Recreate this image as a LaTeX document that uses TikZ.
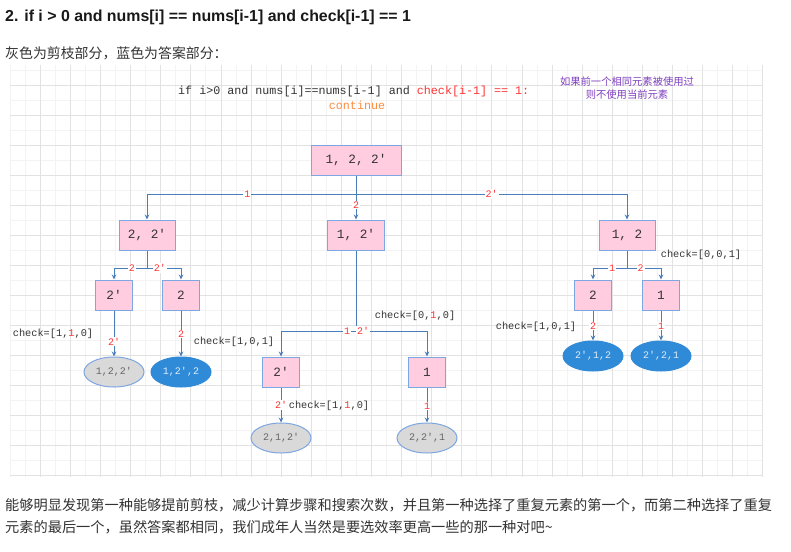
\documentclass[tikz,border=0pt]{standalone}
\usepackage{fontspec}
\setmainfont{Liberation Sans}
\setmonofont{Liberation Mono}
\newfontfamily\cjk{Noto Sans CJK SC}
\usetikzlibrary{arrows.meta,shapes.geometric}

\definecolor{boxpink}{HTML}{FFCCE0}
\definecolor{boxline}{HTML}{7EA6E0}
\definecolor{linkblue}{HTML}{4A7EBB}
\definecolor{lblred}{HTML}{FF3333}
\definecolor{ansblue}{HTML}{2F8AD8}
\definecolor{cutgray}{HTML}{D9D9D9}
\definecolor{notepurple}{HTML}{7F3FBF}
\definecolor{contorange}{HTML}{FF8A3D}
\definecolor{codegray}{HTML}{333333}
\definecolor{gridminor}{HTML}{F3F3F3}
\definecolor{gridmajor}{HTML}{E2E2E2}

\newcommand{\fsz}[1]{\fontsize{#1}{#1}\selectfont}

\begin{document}
\begin{tikzpicture}[x=1pt, y=-1pt,
    box/.style={draw=boxline, fill=boxpink, line width=1pt, minimum height=30pt, inner sep=0pt, text=codegray, font=\ttfamily\fsz{12.7}},
    leaf/.style={ellipse, minimum width=60pt, minimum height=30pt, inner sep=0pt, line width=1pt, font=\ttfamily\fsz{10}},
    cutleaf/.style={leaf, draw=boxline, fill=cutgray, text=gray!80!black},
    ansleaf/.style={leaf, draw=ansblue, fill=ansblue, text=white!85!ansblue},
    lbl/.style={fill=white, inner sep=1pt, text=lblred, font=\ttfamily\fsz{10}},
    chk/.style={inner sep=0pt, text=codegray, font=\ttfamily\fsz{10.3}},
    link/.style={linkblue, line width=1pt},
    arr/.style={link, -{Stealth[length=5pt,width=4.5pt]}}
  ]

        \fill[white](0, 0) rectangle (791, 551);
        \useasboundingbox (0, 0) rectangle (791, 551);

        % grid paper
        \foreach \gx in {10,25.05,...,764} \draw[gridminor](\gx, 65) to (\gx, 477);
        \foreach \gy in {70,85,...,476} \draw[gridminor](10, \gy) to (763, \gy);
        \foreach \gx in {40.1,70.2,...,764} \draw[gridmajor](\gx, 65) to (\gx, 477);
        \foreach \gy in {85,115,...,476} \draw[gridmajor](10, \gy) to (763, \gy);

        % heading
        \node[anchor=west, inner sep=0pt, font=\bfseries\fsz{15.9}, text=black!90] (title) at(5, 17){2. if i > 0 and nums[i] == nums[i-1] and check[i-1] == 1};
        \node[anchor=west, inner sep=0pt, font=\cjk\fsz{13.9}, text=codegray] (intro) at(5, 53){灰色为剪枝部分，蓝色为答案部分：};

        % rule
        \node[anchor=west, inner sep=0pt, font=\ttfamily\fsz{11.7}] (cond) at(178, 91){\textcolor{codegray}{if i>0 and nums[i]==nums[i-1] and }\textcolor{lblred}{check[i-1] == 1:}};
        \node[inner sep=0pt, font=\ttfamily\fsz{11.7}, text=contorange] (cont) at(357, 105){continue};
        \node[align=center, inner sep=0pt, font=\cjk\fontsize{10.3}{13}\selectfont, text=notepurple] (note) at(627, 88.5){如果前一个相同元素被使用过\\则不使用当前元素};

        % level 0 and 1
        \node[box, minimum width=90pt] (root) at(356, 160){1, 2, 2'};
        \node[box, minimum width=56pt] (n22) at(147, 235){2, 2'};
        \node[box, minimum width=57pt] (n12p) at(356, 235){1, 2'};
        \node[box, minimum width=56pt] (n12) at(627, 235){1, 2};

        \coordinate (j0) at(356, 194);
        \draw[link](root) to (j0);
        \draw[arr](j0) -| node[lbl, pos=.26]{1} (n22.north);
        \draw[arr](j0) -| node[lbl, pos=.25]{2'} (n12.north);
        \draw[arr](root) to node[lbl, pos=.67]{2} (n12p);

        % left part
        \node[box, minimum width=37pt] (a2p) at(114, 295){2'};
        \node[box, minimum width=37pt] (a2) at(181, 295){2};
        \coordinate (j1) at(147, 268);
        \draw[link](n22) to (j1);
            \draw[arr](j1) -| node[lbl, pos=.23]{2} (a2p.north);
            \draw[arr](j1) -| node[lbl, pos=.19]{2'} (a2.north);
        \node[cutleaf] (la) at(114, 372){1,2,2'};
        \node[ansleaf] (lb) at(181, 372){1,2',2};
        \draw[arr](a2p) to node[lbl, pos=.68]{2'} (la);
        \draw[arr](a2) to node[lbl, pos=.51]{2} (lb);
        \node[chk] (chka) at(53, 334){check=[1,\textcolor{lblred}{1},0]};

        % middle part
        \node[box, minimum width=37pt] (b2p) at(281, 372){2'};
        \node[box, minimum width=37pt] (b1) at(427, 372){1};
        \coordinate (j2) at(356, 331);
        \draw[link](n12p) to (j2);
            \draw[arr](j2) -| node[lbl, pos=.06]{1} (b2p.north);
            \draw[arr](j2) -| node[lbl, pos=.05]{2'} (b1.north);
        \node[cutleaf] (lc) at(281, 438){2,1,2'};
        \node[cutleaf] (ld) at(427, 438){2,2',1};
        \draw[arr](b2p) to node[lbl, pos=.5]{2'} (lc);
        \draw[arr](b1) to node[lbl, pos=.53]{1} (ld);
        \node[chk] (chkb) at(234, 342){check=[1,0,1]};
        \node[chk] (chkc) at(415, 316){check=[0,\textcolor{lblred}{1},0]};
        \node[chk] (chkd) at(329, 406){check=[1,\textcolor{lblred}{1},0]};

        % right part
        \node[box, minimum width=37pt] (c2) at(593, 295){2};
        \node[box, minimum width=37pt] (c1) at(661, 295){1};
        \coordinate (j3) at(627, 268);
        \draw[link](n12) to (j3);
            \draw[arr](j3) -| node[lbl, pos=.22]{1} (c2.north);
            \draw[arr](j3) -| node[lbl, pos=.2]{2} (c1.north);
        \node[ansleaf] (le) at(593, 356){2',1,2};
        \node[ansleaf] (lf) at(661, 356){2',2,1};
        \draw[arr](c2) to node[lbl, pos=.52]{2} (le);
        \draw[arr](c1) to node[lbl, pos=.52]{1} (lf);
        \node[chk] (chke) at(701, 255){check=[0,0,1]};
        \node[chk] (chkf) at(536, 327){check=[1,0,1]};

        % closing text
        \node[anchor=west, inner sep=0pt, font=\cjk\fsz{14.2}, text=codegray] (endA) at(5, 505){能够明显发现第一种能够提前剪枝，减少计算步骤和搜索次数，并且第一种选择了重复元素的第一个，而第二种选择了重复};
        \node[anchor=west, inner sep=0pt, font=\cjk\fsz{14.2}, text=codegray] (endB) at(5, 527){元素的最后一个，虽然答案都相同，我们成年人当然是要选效率更高一些的那一种对吧\textasciitilde};

\end{tikzpicture}
\end{document}
